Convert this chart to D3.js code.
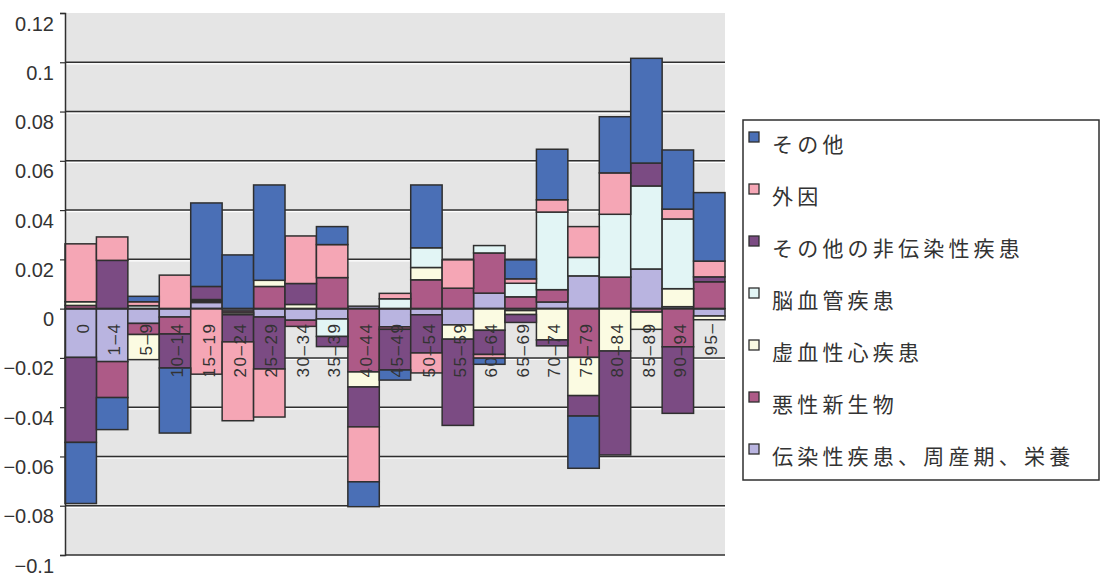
<!DOCTYPE html>
<html>
<head>
<meta charset="utf-8">
<script src="https://cdn.jsdelivr.net/npm/d3@7"></script>
<style>
  html, body { margin: 0; padding: 0; background: #ffffff; }
  svg { display: block; }
</style>
</head>
<body>
<svg id="chart" width="1102" height="579"></svg>
<script>
// Age groups (category axis)
const categories = ["0", "1–4", "5–9", "10–14", "15–19", "20–24", "25–29", "30–34", "35–39", "40–44",
  "45–49", "50–54", "55–59", "60–64", "65–69", "70–74", "75–79", "80–84", "85–89", "90–94", "95–"];

// Contribution by cause, one value per age group
const infectious = [-0.0198, -0.0215, -0.006, -0.0034, 0.0025, -0.001, -0.0034, -0.0047, -0.0042, 0.001,
  -0.0074, -0.0025, -0.0066, 0.0063, -0.0008, 0.0027, 0.0133, 0, 0.0161, 0.0008, -0.003];
const neoplasms = [0.0013, -0.0146, -0.0045, -0.0069, 0, -0.0008, 0.009, -0.0025, 0.0126, -0.0257,
  -0.001, 0.0117, 0.0083, 0.0163, 0.0048, 0.005, -0.0198, 0.0128, -0.0014, -0.0155, 0.0109];
const ischemic = [0.0015, 0, -0.0102, 0, 0.0006, -0.0007, 0.0025, 0.0017, 0, -0.0061,
  0, 0.005, -0.0058, -0.0088, -0.0016, -0.0127, -0.0155, -0.0172, -0.007, 0.0073, -0.0015];
const cerebro = [0, 0, 0.0012, 0, 0.0006, 0, 0, 0, -0.0071, 0,
  0.004, 0.008, 0, 0.003, 0.0055, 0.0315, 0.0075, 0.0255, 0.0337, 0.0283, 0];
const otherNcd = [-0.0345, 0.0196, 0, -0.0138, 0.0053, -0.011, -0.0211, 0.0085, -0.0041, -0.0162,
  -0.0165, -0.0155, -0.035, -0.0098, -0.0032, -0.0024, -0.0083, -0.0422, 0.0093, -0.027, 0.002];
const external = [0.0235, 0.0095, 0.0016, 0.0136, -0.0266, -0.032, -0.0195, 0.0193, 0.0134, -0.0223,
  0.0022, -0.0081, 0.0115, -0.0015, 0.0018, 0.005, 0.0125, 0.0168, 0, 0.004, 0.0064];
const other = [-0.0248, -0.013, 0.0022, -0.0264, 0.0339, 0.0218, 0.0387, 0, 0.0073, -0.0101,
  -0.0041, 0.0255, 0, -0.0025, 0.0077, 0.0205, -0.0212, 0.0228, 0.0425, 0.024, 0.0278];

// Series in stacking order (nearest the zero line first)
const seriesKeys = ["infectious", "neoplasms", "ischemic", "cerebro", "otherNcd", "external", "other"];
const seriesNames = ["伝染性疾患、周産期、栄養", "悪性新生物", "虚血性心疾患", "脳血管疾患",
  "その他の非伝染性疾患", "外因", "その他"];
const seriesColors = ["#b9b4e0", "#ad5a87", "#fbfbe2", "#e2f5f5", "#7b4b83", "#f5a6b5", "#4a6fb6"];
const seriesValues = [infectious, neoplasms, ischemic, cerebro, otherNcd, external, other];

// Legend lists top-to-bottom in reverse stacking order
const legendOrder = [6, 5, 4, 3, 2, 1, 0];

const yTicks = [0.12, 0.1, 0.08, 0.06, 0.04, 0.02, 0, -0.02, -0.04, -0.06, -0.08, -0.1];
const yTickLabels = ["0.12", "0.1", "0.08", "0.06", "0.04", "0.02", "0",
  "\u22120.02", "\u22120.04", "\u22120.06", "\u22120.08", "\u22120.1"];

const table = categories.map((c, i) => {
  const row = { age: c };
  seriesKeys.forEach((k, j) => { row[k] = seriesValues[j][i]; });
  return row;
});

const svg = d3.select("#chart");
const plot = { left: 65, right: 725, top: 13, bottom: 555 };

const x = d3.scaleBand().domain(categories).range([plot.left, plot.right]).padding(0);
const y = d3.scaleLinear().domain([-0.1, 0.12]).range([plot.bottom, plot.top]);

const ink = "#2f2f2f";

// plot background
svg.append("rect")
  .attr("x", plot.left).attr("y", plot.top)
  .attr("width", plot.right - plot.left).attr("height", plot.bottom - plot.top)
  .attr("fill", "#e5e5e5");

// gridlines with a light edge underneath
const grid = svg.append("g");
yTicks.filter(t => t < 0.12).forEach(t => {
  grid.append("line")
    .attr("x1", plot.left).attr("x2", plot.right)
    .attr("y1", y(t) + 1.6).attr("y2", y(t) + 1.6)
    .attr("stroke", "#ffffff").attr("stroke-width", 1.2);
  grid.append("line")
    .attr("x1", plot.left).attr("x2", plot.right)
    .attr("y1", y(t)).attr("y2", y(t))
    .attr("stroke", ink).attr("stroke-width", 1.5);
});

// stacked bars, positives above zero and negatives below
const stacked = d3.stack().keys(seriesKeys).offset(d3.stackOffsetDiverging)(table);

svg.append("g").selectAll("g")
  .data(stacked)
  .join("g")
  .attr("fill", (d, i) => seriesColors[i])
  .selectAll("rect")
  .data(d => d.filter(s => Math.abs(s[1] - s[0]) > 1e-9))
  .join("rect")
  .attr("x", d => x(d.data.age))
  .attr("width", x.bandwidth())
  .attr("y", d => y(Math.max(d[0], d[1])))
  .attr("height", d => Math.abs(y(d[0]) - y(d[1])))
  .attr("stroke", ink)
  .attr("stroke-width", 1.5);

// zero line
svg.append("line")
  .attr("x1", plot.left).attr("x2", plot.right)
  .attr("y1", y(0)).attr("y2", y(0))
  .attr("stroke", ink).attr("stroke-width", 1.8);

// category labels, rotated, hanging below the zero line
svg.append("g").selectAll("text")
  .data(categories)
  .join("text")
  .attr("transform", d => `translate(${x(d) + x.bandwidth() / 2 + 2},${y(0) + 14}) rotate(-90)`)
  .attr("text-anchor", "end")
  .attr("dy", "0.36em")
  .attr("font-family", "'Liberation Sans', Arial, sans-serif")
  .attr("font-size", 17)
  .attr("letter-spacing", "1.5px")
  .attr("fill", "#333")
  .text(d => d);

// value axis
const yAxis = svg.append("g")
  .attr("transform", `translate(${plot.left},0)`)
  .call(d3.axisLeft(y).tickValues(yTicks)
    .tickFormat((d, i) => yTickLabels[i]).tickSize(5).tickPadding(6));
yAxis.select(".domain").attr("stroke", ink).attr("stroke-width", 1.5);
yAxis.selectAll(".tick line").attr("stroke", ink).attr("stroke-width", 1.2);
yAxis.selectAll(".tick text")
  .attr("font-family", "'Liberation Sans', Arial, sans-serif")
  .attr("font-size", 20)
  .attr("fill", "#333")
  .attr("y", 10)
  .attr("dy", "0.35em");

// legend
const legend = svg.append("g");
legend.append("rect")
  .attr("x", 743).attr("y", 120).attr("width", 356).attr("height", 360)
  .attr("fill", "#ffffff").attr("stroke", ink).attr("stroke-width", 1.5);

legendOrder.forEach((si, row) => {
  const cy = 143 + row * 52;
  legend.append("rect")
    .attr("x", 749).attr("y", cy - 11).attr("width", 10).attr("height", 10)
    .attr("fill", seriesColors[si]).attr("stroke", ink).attr("stroke-width", 1.3);
  legend.append("text")
    .attr("x", 772).attr("y", cy)
    .attr("dominant-baseline", "central")
    .attr("font-family", "'Noto Sans CJK JP', sans-serif")
    .attr("font-size", 21)
    .attr("letter-spacing", "4.2px")
    .attr("fill", "#333")
    .text(seriesNames[si]);
});
</script>
</body>
</html>
